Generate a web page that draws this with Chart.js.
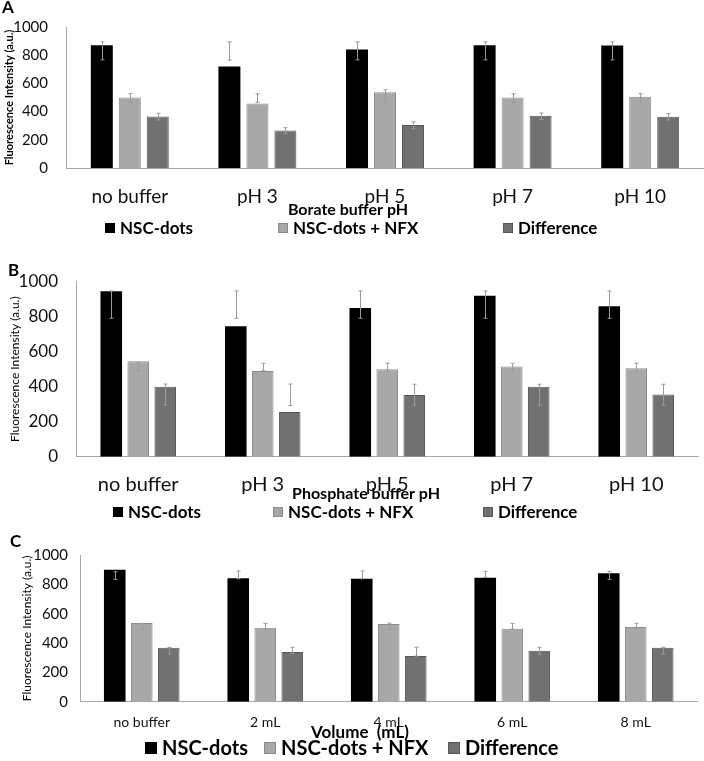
<!DOCTYPE html>
<html><head><meta charset="utf-8">
<script src="https://cdn.jsdelivr.net/npm/chart.js@4/dist/chart.umd.min.js"></script>
<style>
html,body{margin:0;padding:0;background:#fff;}
#wrap{position:relative;width:704px;height:761px;overflow:hidden;}
canvas{position:absolute;left:0;}
</style></head><body>
<div id="wrap">
<canvas id="cA" width="704" height="245" style="top:0px"></canvas>
<canvas id="cB" width="704" height="280" style="top:245px"></canvas>
<canvas id="cC" width="704" height="236" style="top:525px"></canvas>
</div>
<script>
// ---------- data ----------
const seriesLabels = ['NSC-dots', 'NSC-dots + NFX', 'Difference'];
const yAxisTitle = 'Fluorescence Intensity (a.u.)';
const yTickValues = [0, 200, 400, 600, 800, 1000];

// Panel A: Borate buffer pH
const catsA = ['no buffer', 'pH 3', 'pH 5', 'pH 7', 'pH 10'];
const nscA  = [870, 720, 840, 870, 868];
const nfxA  = [500, 458, 537, 500, 505];
const diffA = [365, 266, 305, 370, 364];
const nscErrA  = [[767, 895], [765, 895], [767, 895], [767, 895], [767, 895]];
const nfxErrA  = [[466, 527], [466, 527], [466, 555], [466, 527], [466, 527]];
const diffErrA = [[340, 388], [244, 286], [279, 327], [344, 390], [340, 386]];
const xTitleA = 'Borate buffer pH';

// Panel B: Phosphate buffer pH
const catsB = ['no buffer', 'pH 3', 'pH 5', 'pH 7', 'pH 10'];
const nscB  = [945, 745, 850, 920, 860];
const nfxB  = [545, 490, 500, 515, 505];
const diffB = [400, 255, 352, 400, 355];
const nscErrB  = [[791, 947], [791, 947], [791, 947], [791, 947], [791, 947]];
const nfxErrB  = [[491, 537], [491, 534], [491, 534], [491, 534], [491, 534]];
const diffErrB = [[295, 415], [292, 415], [294, 414], [294, 414], [294, 414]];
const xTitleB = 'Phosphate buffer pH';

// Panel C: Volume (mL)
const catsC = ['no buffer', '2 mL', '4 mL', '6 mL', '8 mL'];
const nscC  = [900, 841, 838, 845, 875];
const nfxC  = [536, 504, 530, 498, 509];
const diffC = [368, 339, 311, 348, 368];
const nscErrC  = [[834, 886], [838, 891], [838, 891], [848, 889], [834, 889]];
const nfxErrC  = [[494, 534], [494, 534], [494, 536], [495, 534], [495, 534]];
const diffErrC = [[325, 370], [330, 371], [311, 371], [323, 371], [325, 371]];
const xTitleC = 'Volume  (mL)';

// ---------- rendering ----------
Chart.defaults.font.family = 'Lato, "Open Sans", sans-serif';
Chart.defaults.color = '#000';

const FILLS = ['#000000', '#a8a8a8', '#717171'];
const BORDERS = ['#000000', '#8a8a8a', '#585858'];

const decor = {
  id: 'decor',
  afterDatasetsDraw(chart) {
    const ctx = chart.ctx, y = chart.scales.y;
    ctx.save();
    ctx.strokeStyle = '#9a9a9a';
    ctx.lineWidth = 1;
    chart.data.datasets.forEach((ds, i) => {
      const meta = chart.getDatasetMeta(i);
      (ds.errorBars || []).forEach((e, j) => {
        const el = meta.data[j];
        if (!el) return;
        const x = Math.round(el.x) + 0.5;
        const y1 = y.getPixelForValue(e[0]), y2 = y.getPixelForValue(e[1]);
        ctx.beginPath();
        ctx.moveTo(x, y1); ctx.lineTo(x, y2);
        ctx.moveTo(x - 2, y1); ctx.lineTo(x + 2, y1);
        ctx.moveTo(x - 2, y2); ctx.lineTo(x + 2, y2);
        ctx.stroke();
      });
    });
    ctx.restore();
  },
  afterDraw(chart, args, o) {
    const ctx = chart.ctx;
    ctx.save();
    ctx.fillStyle = '#000';
    // panel letter
    ctx.font = 'bold ' + o.letterSize + 'px Lato, sans-serif';
    ctx.textAlign = 'left'; ctx.textBaseline = 'middle';
    ctx.fillText(o.letter, o.letterPos[0], o.letterPos[1]);
    // x-axis title
    ctx.font = 'bold ' + o.xTitleSize + 'px Lato, sans-serif';
    ctx.textAlign = 'center';
    ctx.fillText(o.xTitle, o.xTitleX, o.xTitleY);
    // legend
    ctx.font = 'bold ' + o.legendSize + 'px Lato, sans-serif';
    ctx.textAlign = 'left';
    chart.data.datasets.forEach((ds, i) => {
      const bx = o.legendX[i], b = o.box;
      ctx.fillStyle = ds.backgroundColor;
      ctx.fillRect(bx, o.legendY - b / 2, b, b);
      ctx.strokeStyle = ds.borderColor; ctx.lineWidth = 1;
      ctx.strokeRect(bx + 0.5, o.legendY - b / 2 + 0.5, b - 1, b - 1);
      ctx.fillStyle = '#000';
      ctx.fillText(ds.label, bx + b + 5, o.legendY + 1);
    });
    ctx.restore();
  }
};

function makePanel(id, cats, vals, errs, xTitle, s) {
  const datasets = vals.map((v, i) => ({
    label: seriesLabels[i],
    data: v,
    errorBars: errs[i],
    backgroundColor: FILLS[i],
    borderColor: BORDERS[i],
    borderWidth: i === 0 ? 0 : 1,
    categoryPercentage: s.cp,
    barPercentage: s.bp
  }));
  return new Chart(document.getElementById(id), {
    type: 'bar',
    data: { labels: cats, datasets },
    options: {
      responsive: false,
      animation: false,
      events: [],
      layout: { padding: { top: s.padTop, right: s.padRight, left: 0, bottom: 0 } },
      plugins: {
        legend: { display: false },
        tooltip: { enabled: false },
        decor: {
          letter: s.letter, letterPos: s.letterPos, letterSize: s.letterSize,
          xTitle: xTitle, xTitleX: s.xTitleX, xTitleY: s.xTitleY, xTitleSize: s.xTitleSize,
          legendX: s.legendX, legendY: s.legendY, legendSize: s.legendSize, box: s.box
        }
      },
      scales: {
        x: {
          grid: { display: false, drawTicks: false },
          border: { display: true, color: '#a6a6a6', width: 1 },
          ticks: { font: { size: s.xTickSize }, padding: s.xTickPad, color: '#111', maxRotation: 0 },
          afterFit(scale) { scale.height = s.xH; }
        },
        y: {
          min: 0, max: 1000,
          afterBuildTicks(scale) { scale.ticks = yTickValues.map(v => ({ value: v })); },
          grid: { display: false, drawTicks: false },
          border: { display: true, color: '#a6a6a6', width: 1 },
          ticks: { font: { size: s.yTickSize }, padding: s.yTickPad, color: '#111',
                   callback: v => String(v) },
          title: {
            display: true, text: yAxisTitle,
            font: { size: s.yTitleSize, weight: s.yTitleBold ? 'bold' : 'normal' },
            padding: { top: s.yTitlePad, bottom: 0 }, color: '#000'
          },
          afterFit(scale) { scale.width = s.yW; }
        }
      }
    },
    plugins: [decor]
  });
}

makePanel('cA', catsA, [nscA, nfxA, diffA], [nscErrA, nfxErrA, diffErrA], xTitleA, {
  letter: 'A', letterPos: [2, 8], letterSize: 17,
  yW: 66, padTop: 15, padRight: 0, xH: 77,
  yTickSize: 15, yTickPad: 18, yTitleBold: true, yTitleSize: 11, yTitlePad: 3,
  xTickSize: 19, xTickPad: 17,
  xTitleX: 348, xTitleY: 210, xTitleSize: 16,
  legendX: [105, 278, 503], legendY: 228, legendSize: 17, box: 10,
  cp: 0.658, bp: 0.786
});

makePanel('cB', catsB, [nscB, nfxB, diffB], [nscErrB, nfxErrB, diffErrB], xTitleB, {
  letter: 'B', letterPos: [8, 26], letterSize: 17,
  yW: 76, padTop: 36.7, padRight: 5.5, xH: 68.3,
  yTickSize: 17, yTickPad: 18, yTitleBold: false, yTitleSize: 12, yTitlePad: 8,
  xTickSize: 20, xTickPad: 16,
  xTitleX: 366, xTitleY: 249, xTitleSize: 16,
  legendX: [113, 273, 483], legendY: 267, legendSize: 17, box: 10,
  cp: 0.65, bp: 0.8
});

makePanel('cC', catsC, [nscC, nfxC, diffC], [nscErrC, nfxErrC, diffErrC], xTitleC, {
  letter: 'C', letterPos: [10, 17], letterSize: 17,
  yW: 80, padTop: 30, padRight: 6.5, xH: 59.3,
  yTickSize: 15, yTickPad: 12, yTitleBold: false, yTitleSize: 12, yTitlePad: 20,
  xTickSize: 14, xTickPad: 12.5,
  xTitleX: 360, xTitleY: 208, xTitleSize: 17,
  legendX: [145, 264, 448], legendY: 223, legendSize: 20, box: 12,
  cp: 0.656, bp: 0.8
});
</script>
</body></html>
